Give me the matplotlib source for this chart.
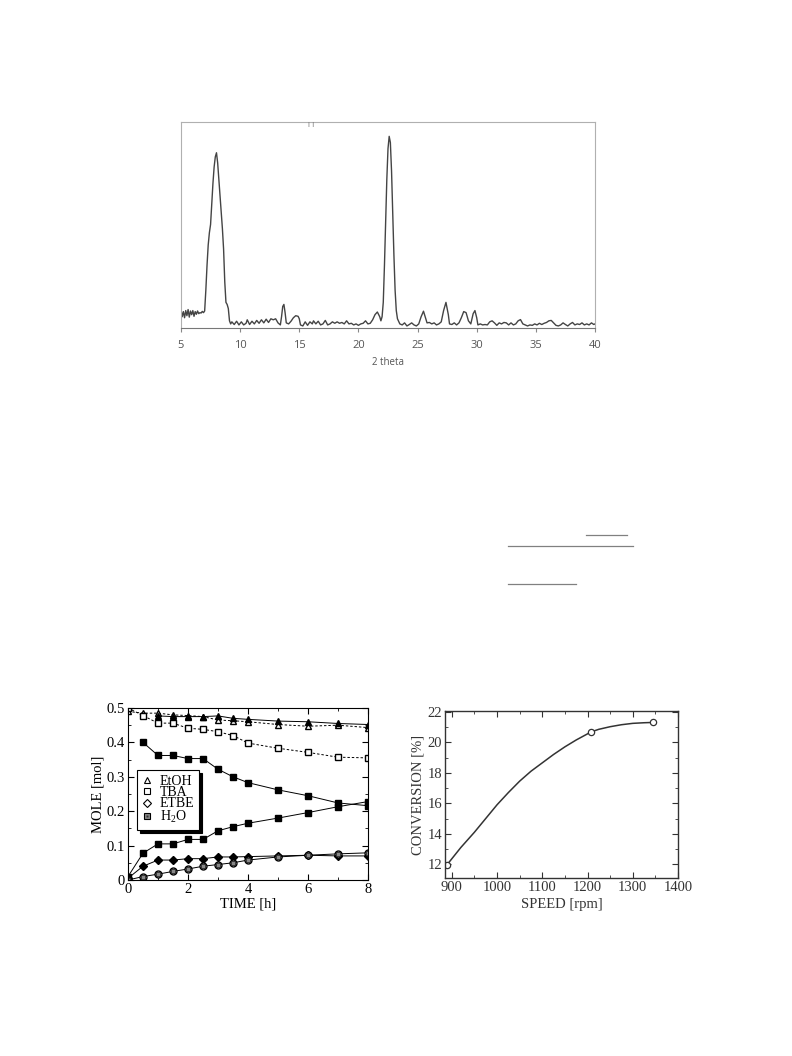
import matplotlib
matplotlib.use('agg')
import matplotlib.pyplot as plt
from matplotlib.lines import Line2D
from matplotlib.ticker import MultipleLocator

plt.rcParams['font.family'] = ['Liberation Serif', 'DejaVu Serif']
plt.rcParams['mathtext.fontset'] = 'custom'
plt.rcParams['mathtext.rm'] = 'Liberation Serif'
plt.rcParams['mathtext.it'] = 'Liberation Serif:italic'

# XRD pattern (2 theta, intensity in arbitrary units)
theta = [5.0, 5.1, 5.2, 5.3, 5.4, 5.5, 5.6, 5.7, 5.8, 5.9, 6.0, 6.1, 6.2, 6.3, 6.4,
         6.5, 6.6, 6.7, 6.8, 6.9, 7.0, 7.1, 7.2, 7.3, 7.4, 7.5, 7.6, 7.7, 7.8, 7.9,
         8.0, 8.1, 8.2, 8.3, 8.4, 8.5, 8.6, 8.7, 8.8, 8.9, 9.0, 9.1, 9.2, 9.3, 9.5,
         9.7, 9.9, 10.1, 10.3, 10.5, 10.6, 10.8, 11.0, 11.2, 11.4, 11.6, 11.8, 12.0,
         12.2, 12.4, 12.6, 12.8, 13.0, 13.2, 13.4, 13.5, 13.6, 13.7, 13.8, 13.9, 14.1,
         14.3, 14.5, 14.7, 14.9, 15.0, 15.1, 15.3, 15.5, 15.7, 15.9, 16.1, 16.2, 16.4,
         16.6, 16.8, 17.0, 17.2, 17.4, 17.6, 17.8, 18.0, 18.2, 18.4, 18.6, 18.8, 19.0,
         19.2, 19.4, 19.6, 19.8, 20.0, 20.2, 20.4, 20.6, 20.8, 21.0, 21.2, 21.4, 21.6,
         21.8, 21.9, 22.0, 22.1, 22.2, 22.3, 22.4, 22.5, 22.6, 22.7, 22.8, 22.9, 23.0,
         23.1, 23.2, 23.3, 23.5, 23.7, 23.9, 24.1, 24.3, 24.5, 24.7, 24.9, 25.1, 25.3,
         25.5, 25.7, 25.8, 26.0, 26.2, 26.4, 26.6, 26.8, 27.0, 27.2, 27.4, 27.6, 27.7,
         27.9, 28.1, 28.3, 28.5, 28.7, 28.9, 29.1, 29.3, 29.5, 29.7, 29.85, 30.0, 30.1,
         30.3, 30.5, 30.7, 30.9, 31.1, 31.3, 31.5, 31.7, 31.9, 32.1, 32.3, 32.5, 32.7,
         32.9, 33.1, 33.3, 33.5, 33.7, 33.9, 34.1, 34.3, 34.5, 34.7, 34.9, 35.1, 35.3,
         35.5, 35.7, 35.9, 36.1, 36.3, 36.5, 36.7, 36.9, 37.1, 37.3, 37.5, 37.7, 37.9,
         38.1, 38.3, 38.5, 38.7, 38.9, 39.1, 39.3, 39.5, 39.7, 39.9, 40.0]
intensity = [8.5, 5.0, 7.5, 4.5, 8.0, 5.5, 8.5, 4.8, 7.8, 6.0, 8.0, 5.2, 7.5, 6.2, 7.8,
             6.5, 7.0, 6.8, 7.6, 7.0, 7.8, 18, 30, 40, 46, 50, 60, 70, 78, 83,
             85, 80, 72, 64, 56, 48, 38, 22, 12, 11, 9, 3, 1.5, 2.5, 1.2,
             2.8, 1.0, 2.5, 1.0, 1.8, 3.5, 1.2, 2.8, 1.5, 3.2, 1.8, 3.5, 2.0,
             3.8, 2.2, 4.0, 3.5, 4.0, 2.0, 1.0, 5, 10, 11, 7, 2, 1.5,
             2.8, 4.5, 5.5, 5.2, 4.0, 1.0, 0.5, 2.5, 0.8, 2.5, 1.5, 3.0, 1.5,
             2.8, 1.0, 1.5, 3.2, 1.0, 1.5, 2.5, 1.8, 2.5, 1.8, 2.2, 1.5, 3.0,
             1.5, 1.8, 1.0, 1.5, 0.8, 1.5, 1.8, 3.0, 1.5, 1.8, 3.5, 6.0, 7.3,
             5.0, 3.0, 5.0, 12, 30, 52, 72, 87, 93, 90, 76, 55, 35,
             18, 8, 4, 1.5, 1.0, 2.0, 0.5, 1.2, 2.0, 1.0, 0.5, 1.5, 5.0,
             7.7, 4.0, 2.0, 2.2, 1.5, 2.0, 1.0, 1.5, 2.5, 8.0, 12, 6, 1.5,
             1.2, 2.0, 1.0, 2.0, 4.5, 7.5, 7.0, 3.0, 1.5, 6.5, 8.0, 4.5, 1.0,
             1.5, 1.0, 1.2, 1.0, 2.5, 3.0, 2.0, 0.8, 2.0, 1.5, 2.2, 2.0, 1.0,
             2.0, 1.0, 1.5, 3.0, 3.6, 1.5, 1.0, 0.5, 1.0, 0.8, 1.5, 1.0, 1.8,
             1.2, 1.8, 2.2, 3.0, 3.2, 2.0, 0.8, 0.5, 1.0, 2.0, 1.2, 0.5, 1.5,
             2.2, 1.0, 1.5, 1.2, 2.0, 1.0, 1.5, 1.0, 2.0, 1.2, 1.5]

# Mole vs time
time = [0, 0.5, 1, 1.5, 2, 2.5, 3, 3.5, 4, 5, 6, 7, 8]
etoh_open = [0.49, 0.485, 0.485, 0.48, 0.478, 0.475, 0.465, 0.463, 0.46, 0.452, 0.447, 0.45, 0.443]
etoh_fill = [0.49, 0.485, 0.477, 0.475, 0.475, 0.475, 0.477, 0.47, 0.467, 0.462, 0.46, 0.455, 0.452]
tba_open = [0.5, 0.478, 0.456, 0.456, 0.441, 0.438, 0.431, 0.42, 0.398, 0.383, 0.371, 0.357, 0.355]
tba_fill = [None, 0.4, 0.362, 0.362, 0.353, 0.353, 0.322, 0.3, 0.283, 0.262, 0.245, 0.224, 0.216]
h2o_fill = [0.01, 0.078, 0.105, 0.105, 0.118, 0.118, 0.143, 0.155, 0.165, 0.18, 0.196, 0.213, 0.228]
etbe_fill = [0.005, 0.04, 0.058, 0.058, 0.062, 0.062, 0.067, 0.067, 0.068, 0.07, 0.072, 0.07, 0.07]
h2o_open = [0.0, 0.01, 0.017, 0.025, 0.032, 0.04, 0.045, 0.05, 0.058, 0.067, 0.072, 0.076, 0.079]

# Conversion vs stirring speed
speed_pts = [889, 1208, 1345]
conv_pts = [11.95, 20.68, 21.3]
speed_curve = [889, 920, 950, 975, 1000, 1025, 1050, 1075, 1100, 1125, 1150, 1175,
               1208, 1225, 1250, 1275, 1300, 1325, 1345]
conv_curve = [11.95, 13.1, 14.1, 15.0, 15.9, 16.7, 17.45, 18.1, 18.65, 19.2, 19.7, 20.15,
              20.68, 20.85, 21.02, 21.15, 21.24, 21.28, 21.3]

W, H = 792, 1056
fig = plt.figure(figsize=(W / 100, H / 100), dpi=100)


def box(x0, y0, x1, y1):
    return [x0 / W, 1 - y1 / H, (x1 - x0) / W, (y1 - y0) / H]


# ---- top: XRD pattern ----
ax1 = fig.add_axes(box(181, 122, 595, 328))
ax1.plot(theta, intensity, color='#444444', lw=1.0)
ax1.set_xlim(5, 40)
ax1.set_ylim(-0.5, 100)
ax1.set_xticks([5, 10, 15, 20, 25, 30, 35, 40])
ax1.set_yticks([])
for s in ['top', 'left', 'right']:
    ax1.spines[s].set_color('#b0b0b0')
ax1.spines['bottom'].set_color('#777777')
ax1.tick_params(axis='x', direction='out', length=3, color='#888888',
                labelsize=8, labelcolor='#555555', pad=6)
for lab in ax1.get_xticklabels():
    lab.set_family(['Open Sans', 'DejaVu Sans'])
ax1.set_xlabel('2 theta', fontsize=7, color='#555555', family=['Open Sans', 'DejaVu Sans'],
               labelpad=4)
fig.text(311 / W, 1 - 125 / H, 'I I', fontsize=5, color='#777777', ha='center', va='center',
         family=['DejaVu Sans'])

# ---- stray rule lines in the middle of the page ----
for xa, xb, yy in [(586, 627, 535), (508, 633, 546), (508, 576, 584)]:
    fig.add_artist(Line2D([xa / W, xb / W], [1 - yy / H, 1 - yy / H], color='#808080', lw=0.9))

# ---- bottom left: moles vs time ----
ax2 = fig.add_axes(box(128, 708, 368, 880))
lk = dict(color='black', lw=0.7)
ax2.plot(time, etoh_open, ls='--', dashes=(2.5, 2), marker='^', mfc='white', mec='black',
         ms=5, **lk)
ax2.plot(time[2:], etoh_fill[2:], ls='-', marker='^', mfc='black', mec='black', ms=5, **lk)
ax2.plot(time, tba_open, ls='--', dashes=(2.5, 2), marker='s', mfc='white', mec='black',
         ms=5, **lk)
ax2.plot(time[1:], tba_fill[1:], ls='-', marker='s', mfc='black', mec='black', ms=5, **lk)
ax2.plot(time, h2o_fill, ls='-', marker='s', mfc='black', mec='black', ms=5, **lk)
ax2.plot(time, etbe_fill, ls='-', marker='D', mfc='black', mec='black', ms=4, **lk)
ax2.plot(time, h2o_open, ls='-', marker='o', mfc='white', mec='black', ms=5, **lk)
ax2.plot(time, h2o_open, ls='none', marker='s', mfc='#888888', mec='black', mew=0.5, ms=2.2)
ax2.set_xlim(0, 8)
ax2.set_ylim(0, 0.5)
ax2.xaxis.set_major_locator(MultipleLocator(2))
ax2.xaxis.set_minor_locator(MultipleLocator(1))
ax2.yaxis.set_minor_locator(MultipleLocator(0.05))
ax2.set_yticks([0, 0.1, 0.2, 0.3, 0.4, 0.5])
ax2.set_yticklabels(['0', '0.1', '0.2', '0.3', '0.4', '0.5'])
ax2.tick_params(which='both', direction='in', top=True, right=True, labelsize=10.5, pad=2)
ax2.tick_params(which='major', length=4)
ax2.tick_params(which='minor', length=2.5)
ax2.set_xlabel('TIME [h]', fontsize=10.5, labelpad=1)
ax2.set_ylabel('MOLE [mol]', fontsize=10.5, labelpad=2)

h_etoh = Line2D([], [], ls='none', marker='^', mfc='white', mec='black', ms=4.5, mew=0.8)
h_tba = Line2D([], [], ls='none', marker='s', mfc='white', mec='black', ms=4.5, mew=0.8)
h_etbe = Line2D([], [], ls='none', marker='D', mfc='white', mec='black', ms=4, mew=0.8)
h_h2o = Line2D([], [], ls='none', marker='s', mfc='#888888', mec='black', ms=5, mew=0.8)
h_dot = Line2D([], [], ls='none', marker='s', mfc='#333333', mec='none', ms=1.6)
leg = ax2.legend([h_etoh, h_tba, h_etbe, (h_h2o, h_dot)],
                 ['EtOH', 'TBA', 'ETBE', 'H$_2$O'],
                 loc='upper left', bbox_to_anchor=(0.037, 0.64), fontsize=10,
                 frameon=True, fancybox=False, shadow={'color': 'black', 'alpha': 1},
                 handlelength=0.8, handletextpad=0.5, labelspacing=-0.12,
                 borderpad=0.35, borderaxespad=0)
leg.get_frame().set_edgecolor('black')
leg.get_frame().set_linewidth(0.8)

# ---- bottom right: conversion vs speed ----
ax3 = fig.add_axes(box(445, 711, 678, 878))
gc = '#333333'
ax3.plot(speed_curve, conv_curve, color=gc, lw=1.1)
ax3.plot(speed_pts, conv_pts, ls='none', marker='o', mfc='white', mec=gc, ms=4.5, mew=0.9)
ax3.set_xlim(885, 1400)
ax3.set_ylim(11.1, 22.05)
ax3.xaxis.set_major_locator(MultipleLocator(100))
ax3.xaxis.set_minor_locator(MultipleLocator(50))
ax3.yaxis.set_major_locator(MultipleLocator(2))
ax3.yaxis.set_minor_locator(MultipleLocator(1))
for s in ax3.spines.values():
    s.set_color(gc)
    s.set_linewidth(1.0)
ax3.tick_params(which='both', direction='in', top=True, right=True, color=gc,
                labelsize=10.5, labelcolor=gc, pad=2)
ax3.tick_params(which='major', length=4)
ax3.tick_params(which='minor', length=2.5)
ax3.set_xlabel('SPEED [rpm]', fontsize=10.5, color=gc, labelpad=3)
ax3.set_ylabel('CONVERSION [%]', fontsize=10.5, color=gc, labelpad=2)

fig.savefig('out.png', dpi=100)
